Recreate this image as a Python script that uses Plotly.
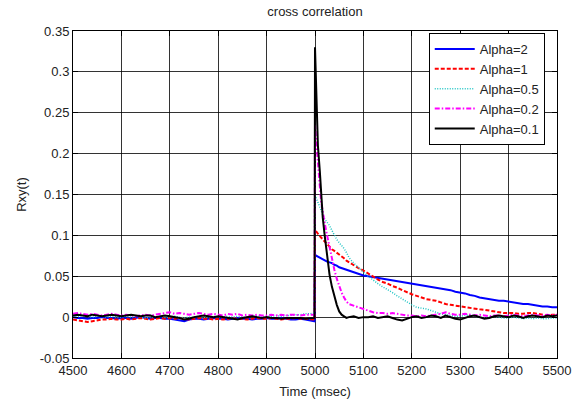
import plotly.graph_objects as go

# ---- data (time in msec, Rxy values) ----
time_pre = list(range(4500, 5000, 10)) + [4999]
time_peak = [5000, 5003, 5006, 5010, 5013, 5016, 5020, 5025, 5030, 5035,
             5040, 5045, 5050, 5055, 5060, 5065, 5070, 5080, 5090, 5100]
time_tail = list(range(5110, 5510, 10))
time_ms = time_pre + time_peak + time_tail

alpha_2 = [
    0.000, -0.001, -0.001, -0.002, -0.001, -0.001, 0.000, -0.001, -0.001, -0.002,
    -0.001, -0.001, -0.002, -0.001, 0.000, -0.001, -0.002, -0.001, -0.001, -0.002,
    -0.002, -0.003, -0.004, -0.005, -0.003, -0.002, -0.002, -0.003, -0.002, -0.001,
    -0.002, -0.002, -0.003, -0.002, -0.001, -0.002, -0.002, -0.003, -0.002, -0.002,
    -0.001, -0.002, -0.002, -0.001, -0.002, -0.003, -0.003, -0.002, -0.003, -0.004,
    -0.005,
    0.076, 0.075, 0.074, 0.073, 0.072, 0.070, 0.069, 0.068, 0.067, 0.066,
    0.064, 0.063, 0.061, 0.060, 0.059, 0.058, 0.057, 0.055, 0.053, 0.051,
    0.050, 0.049, 0.048, 0.047, 0.046, 0.045, 0.044, 0.043, 0.042, 0.041,
    0.040, 0.039, 0.038, 0.037, 0.036, 0.035, 0.034, 0.033, 0.031, 0.030,
    0.029, 0.027, 0.026, 0.024, 0.023, 0.022, 0.021, 0.020, 0.020, 0.019,
    0.018, 0.017, 0.016, 0.016, 0.015, 0.014, 0.013, 0.013, 0.012, 0.012,
]

alpha_1 = [
    -0.003, -0.004, -0.005, -0.006, -0.005, -0.004, -0.003, -0.003, -0.002, -0.003,
    -0.003, -0.002, -0.003, -0.002, -0.001, -0.002, -0.003, -0.002, -0.001, -0.002,
    -0.001, -0.002, -0.001, -0.002, -0.003, -0.002, -0.001, -0.002, -0.002, -0.003,
    -0.002, -0.003, -0.002, -0.001, -0.002, -0.002, -0.003, -0.002, -0.001, -0.002,
    -0.002, -0.001, -0.002, -0.003, -0.002, -0.002, -0.001, -0.002, -0.002, -0.003,
    -0.003,
    0.107, 0.104, 0.102, 0.099, 0.097, 0.095, 0.092, 0.089, 0.086, 0.083,
    0.081, 0.079, 0.077, 0.075, 0.072, 0.069, 0.067, 0.063, 0.060, 0.057,
    0.053, 0.050, 0.046, 0.043, 0.041, 0.038, 0.036, 0.033, 0.030, 0.028,
    0.026, 0.024, 0.022, 0.021, 0.020, 0.018, 0.016, 0.015, 0.014, 0.013,
    0.012, 0.011, 0.010, 0.0095, 0.009, 0.008, 0.007, 0.006, 0.005, 0.005,
    0.005, 0.004, 0.004, 0.005, 0.005, 0.004, 0.003, 0.002, 0.003, 0.003,
]

alpha_05 = [
    0.002, 0.001, 0.002, 0.001, 0.000, 0.001, 0.001, 0.000, 0.001, 0.000,
    0.000, 0.001, 0.000, 0.001, 0.000, -0.001, 0.000, 0.000, 0.001, 0.000,
    0.000, 0.001, 0.000, -0.001, 0.000, 0.000, 0.001, 0.000, 0.000, 0.001,
    0.000, 0.000, 0.001, 0.000, 0.001, 0.000, 0.000, 0.001, 0.001, 0.000,
    0.001, 0.001, 0.002, 0.001, 0.002, 0.002, 0.003, 0.003, 0.004, 0.004,
    0.005,
    0.148, 0.145, 0.141, 0.136, 0.130, 0.125, 0.120, 0.116, 0.112, 0.106,
    0.100, 0.095, 0.091, 0.088, 0.084, 0.079, 0.073, 0.066, 0.060, 0.055,
    0.050, 0.045, 0.041, 0.037, 0.034, 0.030, 0.026, 0.022, 0.018, 0.015,
    0.012, 0.011, 0.010, 0.008, 0.006, 0.004, 0.003, 0.002, 0.001, 0.001,
    0.002, 0.003, 0.001, 0.000, -0.001, 0.000, 0.001, 0.000, -0.001, -0.001,
    0.000, -0.001, -0.002, -0.001, -0.002, -0.001, -0.002, -0.002, -0.001, -0.001,
]

alpha_02 = [
    0.004, 0.005, 0.004, 0.003, 0.004, 0.003, 0.002, 0.003, 0.004, 0.003,
    0.002, 0.003, 0.002, 0.001, 0.002, 0.003, 0.002, 0.003, 0.004, 0.005,
    0.006, 0.004, 0.005, 0.004, 0.003, 0.004, 0.005, 0.004, 0.003, 0.004,
    0.003, 0.002, 0.004, 0.003, 0.004, 0.002, 0.003, 0.002, 0.003, 0.002,
    0.002, 0.003, 0.002, 0.003, 0.002, 0.003, 0.003, 0.002, 0.003, 0.003,
    0.003,
    0.235, 0.210, 0.187, 0.160, 0.140, 0.128, 0.115, 0.100, 0.085, 0.070,
    0.058, 0.047, 0.038, 0.030, 0.024, 0.019, 0.016, 0.014, 0.012, 0.010,
    0.008, 0.006, 0.005, 0.005, 0.004, 0.005, 0.004, 0.003, 0.002, 0.002,
    0.001, 0.002, 0.001, 0.002, 0.003, 0.004, 0.006, 0.004, 0.003, 0.003,
    0.004, 0.003, 0.002, 0.003, 0.002, 0.001, 0.002, 0.002, 0.001, 0.002,
    0.003, 0.002, 0.001, 0.002, 0.003, 0.002, 0.002, 0.003, 0.002, 0.003,
]

alpha_01 = [
    0.002, 0.003, 0.002, 0.001, 0.003, 0.002, 0.001, 0.002, 0.003, 0.002,
    0.001, 0.002, 0.003, 0.002, 0.001, 0.002, 0.002, 0.000, 0.001, 0.002,
    0.001, 0.000, -0.001, -0.003, -0.002, 0.000, 0.001, 0.002, 0.001, 0.000,
    0.001, 0.000, -0.001, -0.002, -0.003, -0.001, 0.000, 0.001, 0.000, -0.001,
    0.000, -0.001, -0.001, -0.002, -0.001, -0.001, -0.001, -0.001, -0.002, -0.001,
    -0.001,
    0.330, 0.260, 0.210, 0.178, 0.150, 0.122, 0.100, 0.072, 0.052, 0.037,
    0.025, 0.015, 0.007, 0.003, 0.001, -0.001, 0.000, 0.001, -0.001, 0.000,
    0.000, 0.001, -0.001, 0.000, 0.001, -0.001, -0.003, -0.004, -0.002, 0.000,
    0.001, -0.001, 0.000, 0.002, 0.001, -0.001, 0.002, 0.000, -0.002, -0.003,
    -0.001, 0.001, 0.002, 0.000, -0.002, -0.001, 0.001, 0.002, 0.001, 0.000,
    0.002, 0.001, -0.001, 0.001, 0.002, 0.001, 0.000, 0.002, 0.001, 0.002,
]

series_names = ["Alpha=2", "Alpha=1", "Alpha=0.5", "Alpha=0.2", "Alpha=0.1"]
series_values = [alpha_2, alpha_1, alpha_05, alpha_02, alpha_01]
series_colors = ["#0000ff", "#ff0000", "#1fc4c4", "#ff00ff", "#000000"]
series_dash = ["solid", "4px,2px", "1px,1.5px", "5px,2px,1.5px,2px", "solid"]
series_width = [2, 2, 1.5, 2, 2]

x_ticks = list(range(4500, 5600, 100))
y_ticks = [-0.05, 0, 0.05, 0.1, 0.15, 0.2, 0.25, 0.3, 0.35]
y_tick_text = ["-0.05", "0", "0.05", "0.1", "0.15", "0.2", "0.25", "0.3", "0.35"]

FONT = "Arial, Liberation Sans, sans-serif"

fig = go.Figure()
for name, vals, col, dash, w in zip(series_names, series_values, series_colors,
                                     series_dash, series_width):
    fig.add_trace(go.Scatter(x=time_ms, y=vals, mode="lines", name=name,
                             line=dict(color=col, dash=dash, width=w)))

axis_common = dict(
    showline=True, linecolor="black", linewidth=1, mirror="ticks",
    ticks="inside", ticklen=5, tickcolor="black",
    showgrid=True, gridcolor="rgba(0,0,0,0.8)", gridwidth=1,
    zeroline=False, automargin=False,
    tickfont=dict(family=FONT, size=13, color="#222"),
)

fig.update_xaxes(range=[4500, 5500], tickvals=x_ticks, ticklabelstandoff=0,
                 title=dict(text="Time (msec)", font=dict(family=FONT, size=13, color="#222"),
                            standoff=16),
                 **axis_common)
fig.update_yaxes(range=[-0.05, 0.35], tickvals=y_ticks, ticktext=y_tick_text,
                 title=dict(text="Rxy(t)", font=dict(family=FONT, size=13, color="#222"),
                            standoff=10),
                 **axis_common)

fig.update_layout(
    width=578, height=399,
    margin=dict(l=73, r=21, t=31, b=41),
    paper_bgcolor="white", plot_bgcolor="white",
    title=dict(text="cross correlation", x=0.545, xanchor="center",
               y=1 - 11 / 399, yanchor="middle",
               font=dict(family=FONT, size=13, color="#222")),
    legend=dict(x=0.735, y=0.994, xanchor="left", yanchor="top",
                bgcolor="white", bordercolor="black", borderwidth=1,
                font=dict(family=FONT, size=13, color="#222"),
                tracegroupgap=0, itemwidth=40),
    showlegend=True,
)

fig.write_html("out.html")
